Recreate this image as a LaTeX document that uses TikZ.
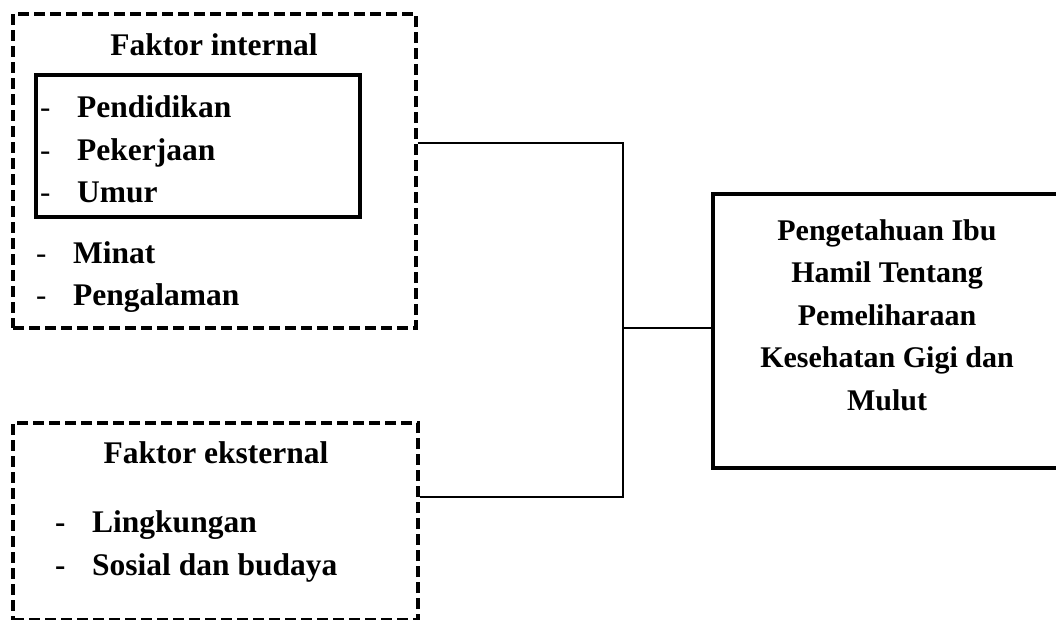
\documentclass[tikz,border=0pt]{standalone}
\usepackage{fontspec}
\setmainfont{Liberation Serif}
\begin{document}
\begin{tikzpicture}[x=1pt,y=-1pt,
  dbox/.style={draw, line width=3.4pt, dash pattern=on 11pt off 5pt, minimum width=#1, inner sep=0pt},
  sbox/.style={draw, line width=3.4pt, inner sep=0pt},
  conn/.style={draw, line width=1.5pt},
  lbl/.style={anchor=base west, inner sep=0pt, font=\fontsize{31.5}{42}\selectfont\bfseries},
  ttl/.style={anchor=base, inner sep=0pt, font=\fontsize{31.5}{42}\selectfont\bfseries},
  dsh/.style={anchor=base west, inner sep=0pt, font=\fontsize{31}{42}\selectfont},
  bdsh/.style={anchor=base west, inner sep=0pt, font=\fontsize{31}{42}\selectfont\bfseries}]
\useasboundingbox (0,0) rectangle (1056,619);
% boxes
\node[dbox=403pt, minimum height=314pt] (intbox) at (214.5,171) {};
\node[sbox, minimum width=324pt, minimum height=142pt] (inner) at (198,146) {};
\node[dbox=405pt, minimum height=197pt] (extbox) at (215.5,521.5) {};
\node[sbox, minimum width=349pt, minimum height=274pt] (target) at (887.5,331) {};
% internal texts
\node[ttl] (ti) at (214,55) {Faktor internal};
\node[dsh] (d1) at (40,117) {-};
\node[lbl] (p1) at (77,117) {Pendidikan};
\node[dsh] (d2) at (40,160) {-};
\node[lbl] (p2) at (77,160) {Pekerjaan};
\node[dsh] (d3) at (40,202) {-};
\node[lbl] (p3) at (77,202) {Umur};
\node[dsh] (d4) at (36,263) {-};
\node[lbl] (p4) at (73,263) {Minat};
\node[dsh] (d5) at (36,305) {-};
\node[lbl] (p5) at (73,305) {Pengalaman};
% external texts
\node[ttl] (te) at (216,463) {Faktor eksternal};
\node[bdsh] (e1d) at (55,532) {-};
\node[lbl] (e1) at (92,532) {Lingkungan};
\node[bdsh] (e2d) at (55,575) {-};
\node[lbl] (e2) at (92,575) {Sosial dan budaya};
% target text
\node[align=center, inner sep=0pt, font=\fontsize{30}{42.5}\selectfont\bfseries, anchor=base] (tt) at (887,410)
  {Pengetahuan Ibu\\Hamil Tentang\\Pemeliharaan\\Kesehatan Gigi dan\\Mulut};
% connectors
\coordinate (j1) at (623,143);
\coordinate (j2) at (623,328);
\coordinate (j3) at (623,497);
\draw[conn] (intbox.east |- j1) -- (j1) -- (j3) -- (extbox.east |- j3);
\draw[conn] (j2) -- (target.west |- j2);
\end{tikzpicture}
\end{document}
